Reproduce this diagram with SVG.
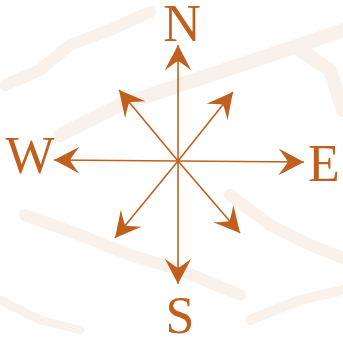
<svg xmlns="http://www.w3.org/2000/svg" width="343" height="342" viewBox="0 0 343 342">
  <style>
    .bg { fill: none; stroke: #FAF1EA; stroke-linecap: round; stroke-linejoin: round; }
    .ray { stroke: #C0601F; stroke-width: 1.6; fill: none; marker-end: url(#head); }
    .lbl { font-family: "Liberation Serif", "Times New Roman", serif; font-size: 52px; fill: #C0601F; text-anchor: middle; }
  </style>
  <defs>
    <marker id="head" markerUnits="userSpaceOnUse" markerWidth="32" markerHeight="32" viewBox="-26 -15 28 30" refX="0" refY="0" orient="auto">
      <path d="M0,0 L-24,-12.5 Q-18,-5 -15,0 Q-18,5 -24,12.5 Z" fill="#C0601F"/>
    </marker>
  </defs>
  <rect width="343" height="342" fill="#FFFFFF"/>
  <g id="background">
    <path class="bg" stroke-width="12" d="M5,85 L40,70 L70,45 L110,30 L150,12"/>
    <path class="bg" stroke-width="14" d="M60,135 L120,105 L180,85 L240,65 L300,45 L343,30"/>
    <path class="bg" stroke-width="14" d="M300,50 L330,70 L343,110"/>
    <path class="bg" stroke-width="12" d="M25,215 L80,235 L130,255 L180,270 L240,295"/>
    <path class="bg" stroke-width="12" d="M230,195 L270,225 L310,245 L343,258"/>
    <path class="bg" stroke-width="9" d="M0,300 L40,320 L80,330"/>
    <path class="bg" stroke-width="10" d="M250,320 L300,300 L343,290"/>
  </g>
  <g id="connectors">
    <line class="ray" x1="178" y1="161" x2="178" y2="45"/>
    <line class="ray" x1="178" y1="161" x2="178" y2="284"/>
    <line class="ray" x1="178" y1="161" x2="54" y2="160"/>
    <line class="ray" x1="178" y1="161" x2="304" y2="162"/>
    <line class="ray" x1="178" y1="161" x2="119" y2="90"/>
    <line class="ray" x1="178" y1="161" x2="233" y2="92"/>
    <line class="ray" x1="178" y1="161" x2="115" y2="238"/>
    <line class="ray" x1="178" y1="161" x2="240" y2="233"/>
  </g>
  <g id="north"><text class="lbl" x="182" y="41">N</text></g>
  <g id="west"><text class="lbl" x="30" y="173">W</text></g>
  <g id="east"><text class="lbl" x="324" y="181">E</text></g>
  <g id="south"><text class="lbl" x="180" y="333">S</text></g>
</svg>
